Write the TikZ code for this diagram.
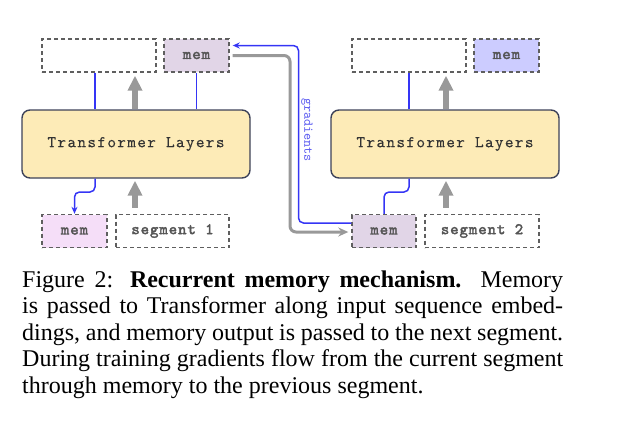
\documentclass[tikz,border=0pt]{standalone}
\usepackage{fontspec}
\setmainfont{Liberation Serif}
\newfontfamily\cour[LetterSpace=8, FakeBold=0.1]{lmmono10-regular.otf}
\newfontfamily\courbold[LetterSpace=6, FakeBold=2.6]{lmmono10-regular.otf}
\newfontfamily\courg{lmmono10-regular.otf}
\usetikzlibrary{arrows.meta,calc}
\definecolor{boxborder}{HTML}{5F5F5F}
\definecolor{memPurple}{HTML}{E1D5E7}
\definecolor{memPink}{HTML}{F5DEF8}
\definecolor{memBlue}{HTML}{CCCCFF}
\definecolor{tfFill}{HTML}{FDEBB7}
\definecolor{tfBorder}{HTML}{3D4259}
\definecolor{lineBlue}{HTML}{3535F5}
\definecolor{arrowGray}{HTML}{999999}
\definecolor{gradText}{HTML}{5A5AF0}
\definecolor{boxText}{HTML}{555555}
\tikzset{
  dbox/.style={draw=boxborder, line width=1.4pt, dash pattern=on 4pt off 3pt,
    minimum height=33pt, inner sep=0pt, text=boxText,
    font=\courbold\fontsize{16}{16}\selectfont},
  tfbox/.style={draw=tfBorder, fill=tfFill, line width=1.4pt, rounded corners=8pt,
    minimum width=228pt, minimum height=68pt, inner sep=0pt, text=black!80,
    font=\cour\fontsize{16.5}{16.5}\selectfont},
  bline/.style={draw=lineBlue, line width=1.5pt},
  bigarrow/.style={draw=arrowGray, line width=6.5pt,
    -{Triangle[length=15pt,width=14pt]}},
}
\begin{document}
\begin{tikzpicture}[x=1pt,y=-1pt]
\useasboundingbox (0,0) rectangle (623,437);
% segment 1 side
\node[dbox, minimum width=114pt] (out1) at (99,55.5) {};
\node[dbox, minimum width=65pt, fill=memPurple] (mem1) at (196.5,55.5) {mem};
\node[tfbox] (T1) at (136,144) {Transformer Layers};
\node[dbox, minimum width=65pt, fill=memPink] (mem1b) at (74.5,231) {mem};
\node[dbox, minimum width=113pt] (seg1) at (172.5,231) {segment 1};
% segment 2 side
\node[dbox, minimum width=114pt] (out2) at (409,55.5) {};
\node[dbox, minimum width=65pt, fill=memBlue] (mem2t) at (506.5,55.5) {mem};
\node[tfbox] (T2) at (445,144) {Transformer Layers};
\node[dbox, minimum width=64pt, fill=memPurple] (mem2) at (384,231) {mem};
\node[dbox, minimum width=114pt] (seg2) at (482,231) {segment 2};
% blue connections, segment 1
\draw[bline] (95,0 |- out1.south) -- (95,0 |- T1.north);
\draw[bline] (mem1.south) -- (mem1.south |- T1.north);
\draw[bline, rounded corners=5pt, -{Stealth[length=7pt,width=6pt]}]
  (95,0 |- T1.south) -- (95,192) -- (74.5,192) -- (mem1b.north);
% blue connections, segment 2
\draw[bline] (out2.south) -- (out2.south |- T2.north);
\draw[bline, rounded corners=5pt]
  (409,0 |- T2.south) -- (409,192) -- (384,192) -- (mem2.north);
% big gray arrows
\draw[bigarrow] (135,0 |- T1.north) -- ([yshift=-3pt]135,0 |- out1.south);
\draw[bigarrow] ([yshift=6pt]135,0 |- seg1.north) -- ([yshift=-2pt]135,0 |- T1.south);
\draw[bigarrow] (446,0 |- T2.north) -- ([yshift=-3pt]446,0 |- out2.south);
\draw[bigarrow] ([yshift=6pt]446,0 |- seg2.north) -- ([yshift=-2pt]446,0 |- T2.south);
% memory passing (gray)
\draw[draw=arrowGray, line width=3pt, rounded corners=6pt,
  -{Stealth[length=10pt,width=9pt]}, shorten <=3pt, shorten >=3pt]
  (mem1.east) -- (290,0 |- mem1.east) -- (290,232) -- ([yshift=-1pt]mem2.west);
% gradients (blue)
\draw[bline, rounded corners=5pt, -{Stealth[length=7pt,width=6pt]}, shorten >=3pt]
  ([yshift=8pt]mem2.west) -- (298.5,223) -- (298.5,45.5) -- ([yshift=10pt]mem1.east);
\node[rotate=-90, text=gradText, font=\courg\fontsize{13.5}{13.5}\selectfont, inner sep=0pt]
  (grad) at (307,130) {gradients};
% caption
\node[anchor=base west, inner sep=0pt] (cap) at (22,287) {\parbox[t]{541pt}{%
  \fontsize{24}{26.5}\selectfont
  Figure 2:\hspace{0.7em}\textbf{Recurrent memory mechanism.} Memory\linebreak
  is passed to Transformer along input sequence embed-\linebreak
  dings, and memory output is passed to the next segment.\linebreak
  During training gradients flow from the current segment\linebreak
  through memory to the previous segment.}};
\end{tikzpicture}
\end{document}
